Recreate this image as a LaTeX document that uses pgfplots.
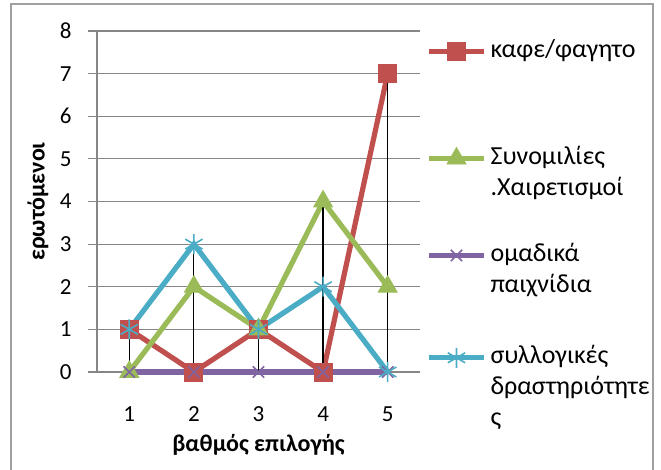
\documentclass[border=0pt]{standalone}
\usepackage{pgfplots}
\pgfplotsset{compat=1.18}
\usepackage{fontspec}
\setmainfont{Carlito}
\definecolor{cred}{HTML}{C0504D}
\definecolor{cgreen}{HTML}{9BBB59}
\definecolor{cpurple}{HTML}{8064A2}
\definecolor{ccyan}{HTML}{4BACC6}
\definecolor{gridgray}{RGB}{134,134,134}
\definecolor{bordergray}{RGB}{160,160,160}
\begin{document}
\begin{tikzpicture}
\useasboundingbox (0,0) rectangle (330.5pt,235pt);
\draw[bordergray, line width=1pt] (5.5pt,-5pt) -- (5.5pt,232.75pt) -- (326.5pt,232.75pt) -- (326.5pt,-5pt);
\begin{axis}[
  at={(48.5pt,49pt)}, anchor=south west,
  scale only axis, width=161.5pt, height=170.5pt,
  xmin=0.5, xmax=5.5, ymin=0, ymax=8,
  xtick={1,2,3,4,5}, ytick={0,1,2,3,4,5,6,7,8},
  axis x line*=bottom, axis y line*=left,
  axis line style={draw=gridgray, line width=0.6pt, -},
  ymajorgrids, grid style={gridgray, line width=0.6pt},
  xtick style={draw=none},
  ytick style={draw=gridgray, line width=0.6pt},
  tick align=outside, major tick length=4.5pt,
  /pgf/number format/assume math mode=true,
  tick label style={font=\fontsize{11.5}{13}\selectfont, inner sep=0pt},
  yticklabel style={anchor=east, xshift=-8pt},
  xticklabel style={anchor=base, yshift=-20.25pt},
  every axis x label/.style={at={(axis description cs:0.5,0)}, anchor=center, yshift=-36.5pt, font=\fontsize{12}{14}\selectfont\bfseries},
  every axis y label/.style={at={(axis description cs:0,0.5)}, xshift=-29.5pt, anchor=center, rotate=90, font=\fontsize{12}{14}\selectfont\bfseries},
  xlabel={βαθμός επιλογής},
  ylabel={ερωτόμενοι},
  clip=false,
  legend style={at={(axis description cs:1,1)}, anchor=north west, xshift=3pt, yshift=-2.2pt,
    draw=none, fill=none, inner sep=0pt, row sep=0pt, column sep=0pt,
    cells={anchor=base west, inner sep=0pt},
    font=\fontsize{13}{15.5}\selectfont},
  legend image code/.code={\draw[mark repeat=2,mark phase=2] plot coordinates {(0pt,3pt)(13.75pt,3pt)(27.5pt,3pt)};},
]
\addplot[cred, line width=2.6pt, mark=square*, mark size=4.5pt, mark options={solid, line width=0.4pt, fill=cred}]
  coordinates {(1,1)(2,0)(3,1)(4,0)(5,7)};
\addlegendentry[text depth=40.2pt, xshift=0.5pt]{\parbox[t]{80pt}{καφε/φαγητο}}
\addplot[cgreen, line width=2.6pt, mark=triangle*, mark size=5.5pt, mark options={solid, line width=0.4pt, fill=cgreen}]
  coordinates {(1,0)(2,2)(3,1)(4,4)(5,2)};
\addlegendentry[text depth=35.3pt, xshift=0.5pt]{\parbox[t]{80pt}{Συνομιλίες\\.Χαιρετισμοί}}
\addplot[cpurple, line width=2.6pt, mark=x, mark size=4pt, mark options={solid, line width=0.8pt}]
  coordinates {(1,0)(2,0)(3,0)(4,0)(5,0)};
\addlegendentry[text depth=38pt, xshift=0.5pt]{\parbox[t]{80pt}{ομαδικά\\παιχνίδια}}
\addplot[ccyan, line width=2.6pt, mark=asterisk, mark size=5pt, mark options={solid, line width=0.8pt}]
  coordinates {(1,1)(2,3)(3,1)(4,2)(5,0)};
\addlegendentry[text depth=35pt, xshift=0.5pt]{\parbox[t]{80pt}{συλλογικές\\δραστηριότητε\\ς}}
\addplot[black, line width=0.6pt, ycomb, forget plot]
  coordinates {(1,1)(2,3)(3,1)(4,4)(5,7)};
\end{axis}
\end{tikzpicture}
\end{document}
